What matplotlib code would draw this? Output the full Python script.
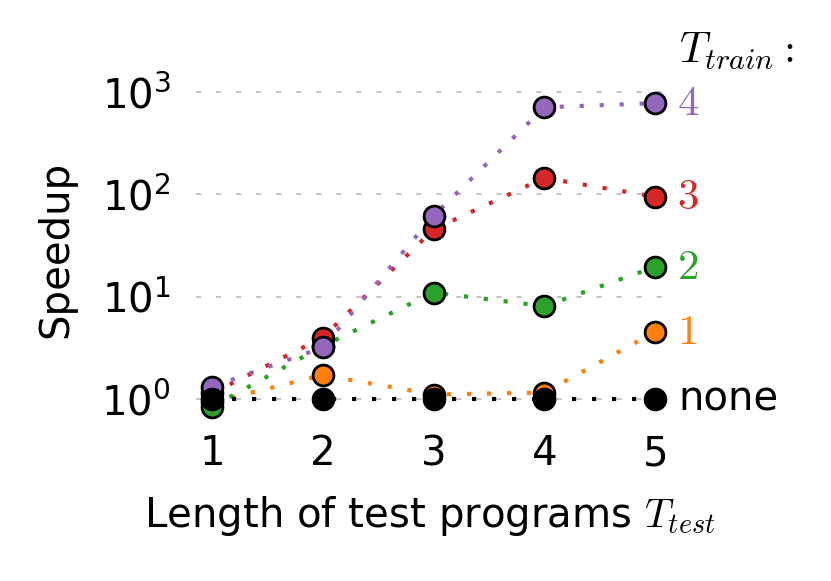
import matplotlib
matplotlib.use('Agg')
import matplotlib.pyplot as plt

plt.rcParams['mathtext.fontset'] = 'cm'
plt.rcParams['font.size'] = 14.5

# x axis: length of test programs
test_lengths = [1, 2, 3, 4, 5]

# speedup per training length
speedup_none = [1.0, 1.0, 1.0, 1.0, 1.0]
speedup_1 = [0.93, 1.72, 1.11, 1.16, 4.55]
speedup_2 = [0.84, 3.3, 11.0, 8.1, 19.6]
speedup_3 = [1.14, 4.0, 45.6, 145, 95]
speedup_4 = [1.32, 3.2, 62, 710, 780]

series_labels = ['1', '2', '3', '4', 'none']
series_values = [speedup_1, speedup_2, speedup_3, speedup_4, speedup_none]
series_colors = ['#ff7f0e', '#2ca02c', '#d62728', '#9467bd', 'black']

W, H = 831, 581
fig = plt.figure(figsize=(W / 200, H / 200), dpi=200)
# axes placed in pixel terms
left, right, bottom, top = 196, 663, 415, 84
ax = fig.add_axes([left / W, 1 - bottom / H, (right - left) / W, (bottom - top) / H])

for label, vals, color in zip(series_labels, series_values, series_colors):
    ax.plot(test_lengths, vals, linestyle=(0, (1, 3.8)), linewidth=1.5,
            color=color, marker='o', markersize=7.5, markerfacecolor=color,
            markeredgecolor='black', markeredgewidth=1.0,
            dash_capstyle='butt', clip_on=False)
    if label == 'none':
        ax.annotate(label, (test_lengths[-1], vals[-1]), textcoords='offset points',
                    xytext=(8.5, 0), ha='left', va='center', color=color)
    else:
        ax.annotate('$' + label + '$', (test_lengths[-1], vals[-1]), textcoords='offset points',
                    xytext=(8, 0), ha='left', va='center', color=color, fontsize=15.5)

ax.set_yscale('log')
ax.set_xlim(0.856, 5.07)
ax.set_ylim(0.7, 1200)
ax.set_yticks([1, 10, 100, 1000])
ax.yaxis.set_minor_locator(matplotlib.ticker.NullLocator())
ax.set_xticks(test_lengths)
ax.tick_params(axis='both', length=0)
ax.tick_params(axis='x', pad=7)
ax.tick_params(axis='y', pad=9)
ax.grid(axis='y', which='major', linestyle=(0, (2.6, 7.7)), linewidth=0.7, color='#c4c4c4')
ax.set_axisbelow(True)
for s in ax.spines.values():
    s.set_visible(False)

ax.set_ylabel('Speedup', labelpad=9)
ax.set_xlabel('Length of test programs $T_{test}$')
ax.xaxis.set_label_coords(0.5, -0.24)

fig.text(679 / W, 1 - 63 / H, '$T_{train}:$', ha='left', va='baseline', fontsize=15.5)

fig.savefig('out.png', dpi=200)
